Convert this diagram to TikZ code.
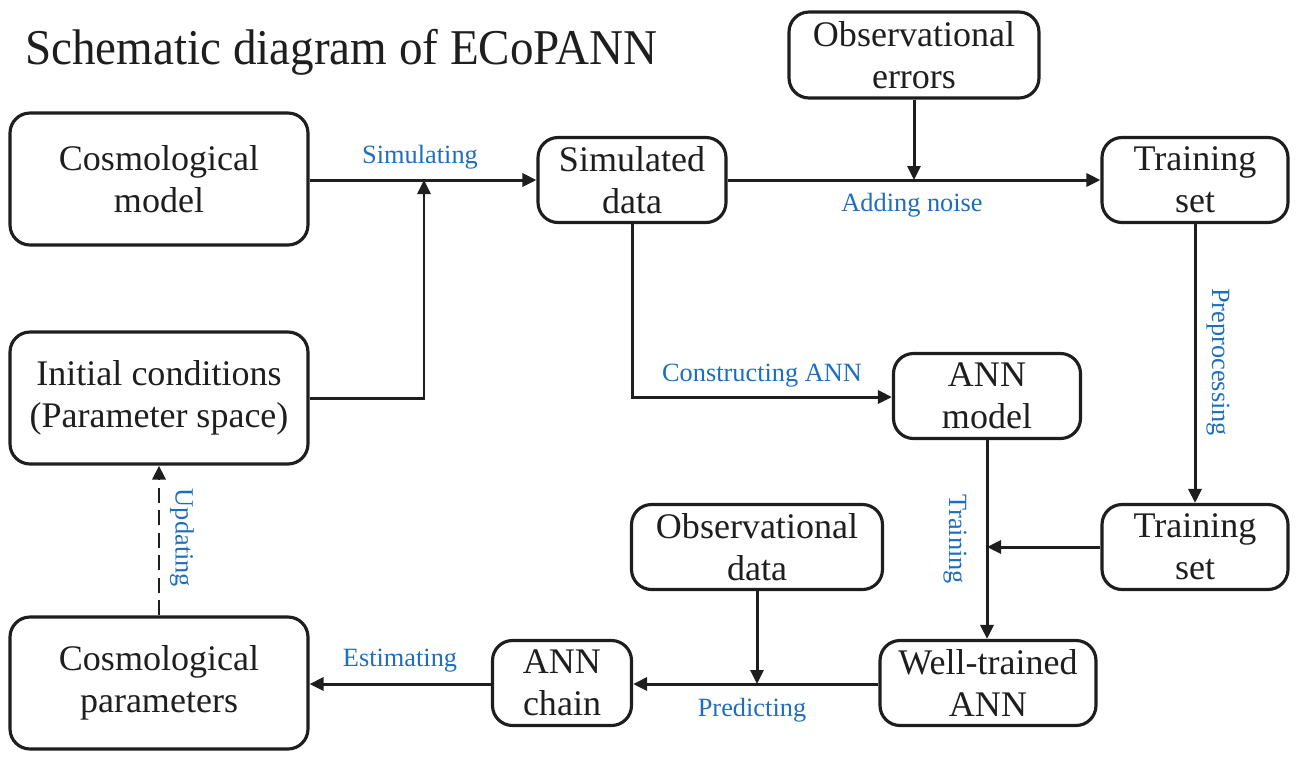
\documentclass[tikz,border=0pt]{standalone}
\usepackage{fontspec}
\setmainfont{Liberation Serif}
\usetikzlibrary{arrows.meta}
\definecolor{lblue}{RGB}{30,110,190}
\definecolor{ink}{RGB}{30,30,30}
\begin{document}
\begin{tikzpicture}[x=0.02cm,y=-0.02cm,
  box/.style={draw=ink, line width=1.8pt, rounded corners=0.4cm, inner sep=0pt,
    align=center, font=\fontsize{20.5}{24}\selectfont, text=ink},
  big/.style={box, minimum width=5.96cm, minimum height=2.64cm},
  conn/.style={draw=ink, line width=1.7pt},
  arr/.style={conn, -{Triangle[length=0.28cm,width=0.26cm]}},
  lbl/.style={text=lblue, font=\fontsize{15}{18}\selectfont, inner sep=0pt}]
\useasboundingbox (0,0) rectangle (1302,762);
\node[anchor=west, inner sep=0pt, text=ink, xscale=0.94, font=\fontsize{28.5}{34}\selectfont] (title) at (25,52) {Schematic diagram of ECoPANN};
\node[big] (cm) at (159,179) {Cosmological\\model};
\node[big] (ic) at (159,398) {Initial conditions\\(Parameter space)};
\node[big] (cp) at (159,683) {Cosmological\\parameters};
\node[box, minimum width=3.76cm, minimum height=1.70cm] (sd) at (632,180) {Simulated\\data};
\node[box, minimum width=5.0cm, minimum height=1.72cm] (oe) at (914,55) {Observational\\errors};
\node[box, minimum width=3.72cm, minimum height=1.70cm] (ts1) at (1195,180) {Training\\set};
\node[box, minimum width=3.74cm, minimum height=1.70cm] (ann) at (987,396) {ANN\\model};
\node[box, minimum width=3.72cm, minimum height=1.70cm] (ts2) at (1195,547) {Training\\set};
\node[box, minimum width=5.02cm, minimum height=1.70cm] (od) at (757,547) {Observational\\data};
\node[box, minimum width=2.78cm, minimum height=1.70cm] (chain) at (562,683) {ANN\\chain};
\node[box, minimum width=4.32cm, minimum height=1.70cm] (wt) at (988,683) {Well-trained\\ANN};
\coordinate (j1) at (424,180);
% connectors
\draw[arr] (cm.east |- j1) -- (sd.west |- j1);
\draw[arr] (ic.east |- 0,398) -| (j1);
\draw[arr] (sd.east |- j1) -- (ts1.west |- j1);
\draw[arr] (oe.south) -- (oe.south |- j1);
\draw[arr] (ts1.south) -- (ts2.north);
\draw[arr] (sd.south) |- (ann.west |- 0,397);
\draw[arr] (ann.south) -- (ann.south |- wt.north);
\draw[arr] (ts2.west |- 0,547) -- (ann.south |- 0,547);
\draw[arr] (wt.west |- 0,684) -- (chain.east |- 0,684);
\draw[arr] (od.south) -- (od.south |- 0,684);
\draw[arr] (chain.west |- 0,684) -- (cp.east |- 0,684);
\draw[arr, dashed, dash pattern=on 0.3cm off 0.15cm] (cp.north) -- (ic.south);
% labels
\node[lbl] (l1) at (420,157) {Simulating};
\node[lbl] (l2) at (912,205) {Adding noise};
\node[lbl] (l3) at (762,376) {Constructing ANN};
\node[lbl, rotate=-90] (l4) at (1218,362) {Preprocessing};
\node[lbl, rotate=-90] (l5) at (955,539) {Training};
\node[lbl] (l6) at (752,710) {Predicting};
\node[lbl] (l7) at (400,661) {Estimating};
\node[lbl, rotate=-90] (l8) at (182,538) {Updating};
\end{tikzpicture}
\end{document}
